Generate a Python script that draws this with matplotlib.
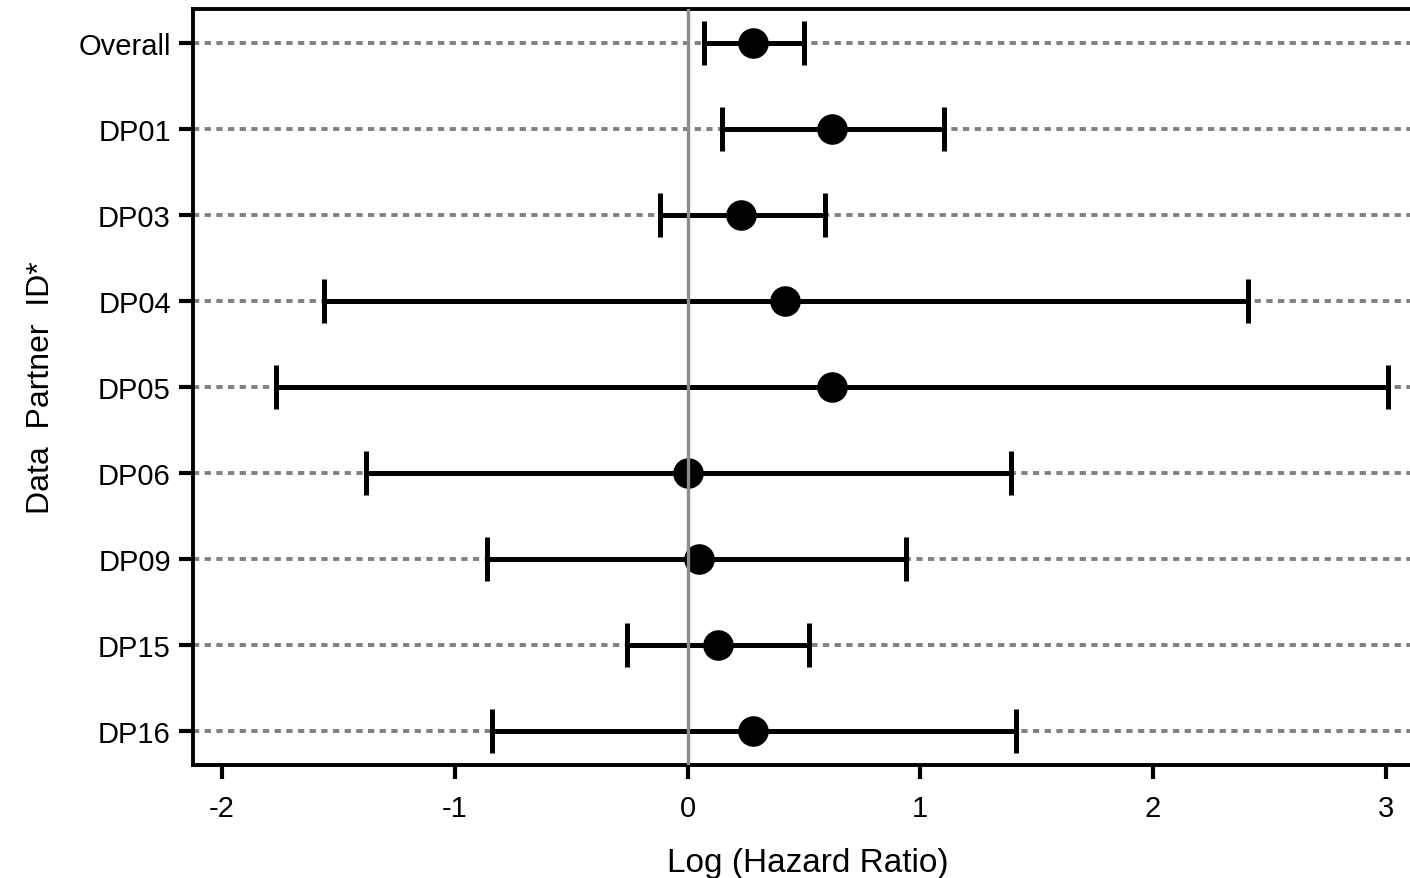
import matplotlib.pyplot as plt

plt.rcParams['font.family'] = ['Liberation Sans', 'DejaVu Sans']
plt.rcParams['axes.unicode_minus'] = False

partners = ['Overall', 'DP01', 'DP03', 'DP04', 'DP05', 'DP06', 'DP09', 'DP15', 'DP16']
log_hr = [0.28, 0.62, 0.23, 0.42, 0.62, 0.00, 0.05, 0.13, 0.28]
ci_low = [0.07, 0.15, -0.12, -1.56, -1.77, -1.38, -0.86, -0.26, -0.84]
ci_high = [0.50, 1.10, 0.59, 2.41, 3.01, 1.39, 0.94, 0.52, 1.41]

ypos = list(range(len(partners)))[::-1]
err_lo = [m - l for m, l in zip(log_hr, ci_low)]
err_hi = [h - m for m, h in zip(log_hr, ci_high)]

fig = plt.figure(figsize=(14.1, 8.79), dpi=100)
ax = fig.add_axes([193 / 1410, 1 - 766 / 879, 1230 / 1410, 756 / 879])

# dashed reference lines for every row
for y in ypos:
    ax.axhline(y, color='#808080', linestyle=(0, (1.6, 1.4)), linewidth=2.8, zorder=1)

ax.errorbar(log_hr, ypos, xerr=[err_lo, err_hi], fmt='o', color='black',
            markersize=21, elinewidth=3.6, capsize=16, capthick=3.6, zorder=3)

ax.axvline(0, color='#8c8c8c', linewidth=2.4, zorder=5)

ax.set_xlim(-2.125, 3.16)
ax.set_ylim(-0.4, 8.4)
ax.set_xticks([-2, -1, 0, 1, 2, 3])
ax.set_yticks(ypos)
ax.set_yticklabels(partners)

for side in ['top', 'left', 'bottom', 'right']:
    ax.spines[side].set_linewidth(2.8)
ax.tick_params(axis='both', width=3, length=10, labelsize=21)
ax.tick_params(axis='y', pad=6)
ax.tick_params(axis='x', pad=11)

ax.set_xlabel('Log (Hazard Ratio)', fontsize=24, labelpad=18)
ax.set_ylabel('Data  Partner  ID*', fontsize=23, labelpad=16)

plt.savefig('out.png', dpi=100)
